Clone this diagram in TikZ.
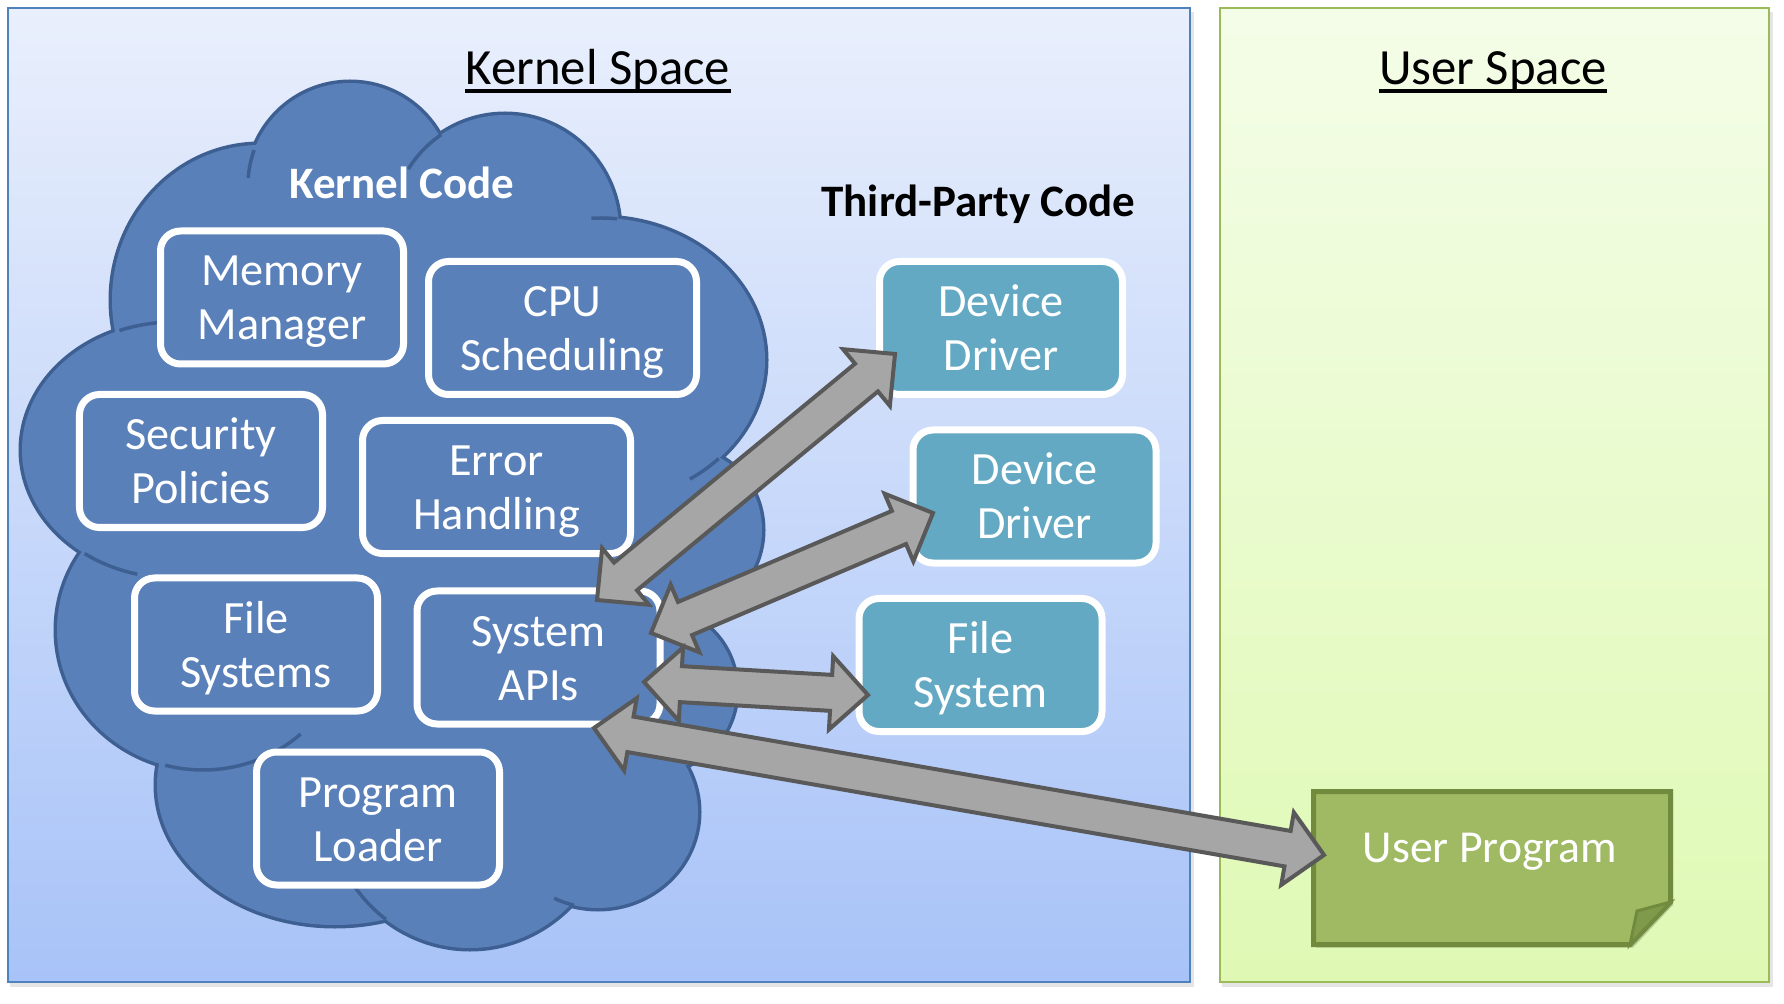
\documentclass[tikz,border=0pt]{standalone}
\usepackage{fontspec}
\setmainfont{Carlito}
\usetikzlibrary{calc,shadows}
\definecolor{ksTop}{RGB}{233,239,252}
\definecolor{ksBot}{RGB}{168,195,248}
\definecolor{ksBorder}{RGB}{79,129,189}
\definecolor{usTop}{RGB}{244,253,232}
\definecolor{usBot}{RGB}{223,249,180}
\definecolor{usBorder}{RGB}{155,187,89}
\definecolor{cloudFill}{RGB}{89,128,185}
\definecolor{cloudLine}{RGB}{62,95,146}
\definecolor{tealFill}{RGB}{100,169,195}
\definecolor{arrowFill}{RGB}{166,166,166}
\definecolor{arrowLine}{RGB}{89,89,89}
\definecolor{upFill}{RGB}{159,186,99}
\definecolor{upLine}{RGB}{114,138,62}
\definecolor{upFold}{RGB}{128,154,75}
\newcommand\topstrut{\rule{0pt}{15.4pt}}
\newcommand\botstrut{\rule[-3pt]{0pt}{3pt}}
\tikzset{
  panel/.style={line width=1pt},
  boxshadow/.style={drop shadow={shadow xshift=0.9pt, shadow yshift=-0.9pt, opacity=0.35, fill=black!70}},
  kbox/.style={draw=white, line width=2.8pt, fill=cloudFill, rounded corners=8pt,
    minimum width=97.2pt, minimum height=53.2pt, inner sep=0pt, align=center,
    text=white, font=\fontsize{18.5}{21.6}\selectfont, boxshadow},
  widebox/.style={minimum width=107.2pt},
  tbox/.style={kbox, fill=tealFill},
  title/.style={inner sep=0pt, anchor=base, font=\fontsize{20.3}{24}\selectfont},
  subtitle/.style={inner sep=0pt, anchor=base, font=\fontsize{18}{21.6}\selectfont\bfseries},
  cloudedge/.style={draw=cloudLine, line width=2.8pt},
  innerline/.style={draw=cloudLine, line width=1.4pt},
  blockarr/.style={fill=arrowFill, draw=arrowLine, line width=1.6pt, line join=miter},
}
\newcommand\innerarc[6]{\draw[innerline] ($(#1,#2)+(#5:#3 and #4)$) arc[start angle=#5, end angle=#6, x radius=#3, y radius=#4];}
\newcommand\blockarrow[2]{%
  \draw[blockarr] (#1)
    -- ($(#1)!14.8pt!(#2)!14.7pt!90:(#2)$)
    -- ($(#1)!14.8pt!(#2)!7.2pt!90:(#2)$)
    -- ($(#2)!14.8pt!(#1)!7.2pt!-90:(#1)$)
    -- ($(#2)!14.8pt!(#1)!14.7pt!-90:(#1)$)
    -- (#2)
    -- ($(#2)!14.8pt!(#1)!14.7pt!90:(#1)$)
    -- ($(#2)!14.8pt!(#1)!7.2pt!90:(#1)$)
    -- ($(#1)!14.8pt!(#2)!7.2pt!-90:(#2)$)
    -- ($(#1)!14.8pt!(#2)!14.7pt!-90:(#2)$)
    -- cycle;}
\def\cloudbumps{260/300/148/155, 350/185/102/102, 505/230/114/115, 600/360/165/142, 688/530/74/80, 660/690/76/80, 598/812/100/96, 470/798/143/150, 335/785/178/140, 203/630/146/140, 174/450/152/128}
\begin{document}
\begin{tikzpicture}[x=0.4pt,y=-0.4pt]
\useasboundingbox (0,0) rectangle (1784,1004);
% panels
\fill[black, opacity=0.10] (10,12) rectangle (1194,987);
\fill[black, opacity=0.10] (1222,12) rectangle (1773,987);
\draw[panel, draw=ksBorder, top color=ksTop, bottom color=ksBot] (8,8) rectangle (1190,982);
\draw[panel, draw=usBorder, top color=usTop, bottom color=usBot] (1220,8) rectangle (1769,982);
% cloud
\foreach \cx/\cy/\rx/\ry in \cloudbumps {\draw[cloudedge] (\cx,\cy) ellipse [x radius=\rx, y radius=\ry];}
\foreach \cx/\cy/\rx/\ry in \cloudbumps {\fill[cloudFill] (\cx,\cy) ellipse [x radius=\rx, y radius=\ry];}
\fill[cloudFill] (390,520) ellipse [x radius=290, y radius=320];
\innerarc{174}{450}{152}{128}{-111}{-93}
\innerarc{174}{450}{152}{128}{126}{104}
\innerarc{203}{630}{146}{140}{105}{48}
\innerarc{470}{798}{143}{150}{126}{144}
\innerarc{598}{812}{100}{96}{104}{116}
\innerarc{600}{360}{165}{142}{44}{57}
\innerarc{600}{360}{165}{142}{-84}{-93}
\innerarc{505}{230}{114}{115}{-124}{-148}
\innerarc{350}{185}{102}{102}{-160}{-176}
% titles
\node[title] (kst) at (598,85) {Kernel Space};
\draw[line width=1.6pt] ([yshift=-2.6pt]kst.base west) -- ([yshift=-2.6pt]kst.base east);
\node[title] (ust) at (1493,85) {User Space};
\draw[line width=1.6pt] ([yshift=-2.6pt]ust.base west) -- ([yshift=-2.6pt]ust.base east);
\node[subtitle, text=white] (kc) at (402,199) {Kernel Code};
\node[subtitle] (tpc) at (978.5,216.5) {Third-Party Code};
% kernel boxes
\node[kbox] (mm) at (282,297.5) {\topstrut Memory\\Manager\botstrut};
\node[kbox, widebox] (cpu) at (562.5,328) {\topstrut CPU\\Scheduling\botstrut};
\node[kbox] (sec) at (201,461) {\topstrut Security\\Policies\botstrut};
\node[kbox, widebox] (err) at (496.5,487) {\topstrut Error\\Handling\botstrut};
\node[kbox] (fsy) at (256,644.5) {\topstrut File\\Systems\botstrut};
\node[kbox] (api) at (538.5,657.5) {\topstrut System\\APIs\botstrut};
\node[kbox] (pl) at (378,818.5) {\topstrut Program\\Loader\botstrut};
% third-party boxes
\node[tbox] (dd1) at (1001,328) {\topstrut Device\\Driver\botstrut};
\node[tbox] (dd2) at (1034.5,496.5) {\topstrut Device\\Driver\botstrut};
\node[tbox] (tfs) at (980.5,665) {\topstrut File\\System\botstrut};
% user program
\fill[black, opacity=0.2] (1316,794) -- (1673,794) -- (1673,905) -- (1633,947.5) -- (1316,947.5) -- cycle;
\draw[fill=upFill, draw=upLine, line width=2pt, line join=miter] (1313.5,791.5) -- (1670.5,791.5) -- (1670.5,902) -- (1630,944.5) -- (1313.5,944.5) -- cycle;
\draw[fill=upFold, draw=upLine, line width=1.2pt, line join=miter] (1670.5,902) -- (1637,911) -- (1630,944.5) -- cycle;
\node[inner sep=0pt, anchor=base, text=white, font=\fontsize{18.3}{21.6}\selectfont] (up) at (1490,862) {User Program};
% arrows
\coordinate (a1s) at (597,600); \coordinate (a1e) at (895,354);
\coordinate (a2s) at (651,633); \coordinate (a2e) at (933,513);
\coordinate (a3s) at (644,682); \coordinate (a3e) at (868,695);
\coordinate (a4s) at (594,728); \coordinate (a4e) at (1324,855);
\blockarrow{a1s}{a1e}
\blockarrow{a2s}{a2e}
\blockarrow{a3s}{a3e}
\blockarrow{a4s}{a4e}
\end{tikzpicture}
\end{document}
